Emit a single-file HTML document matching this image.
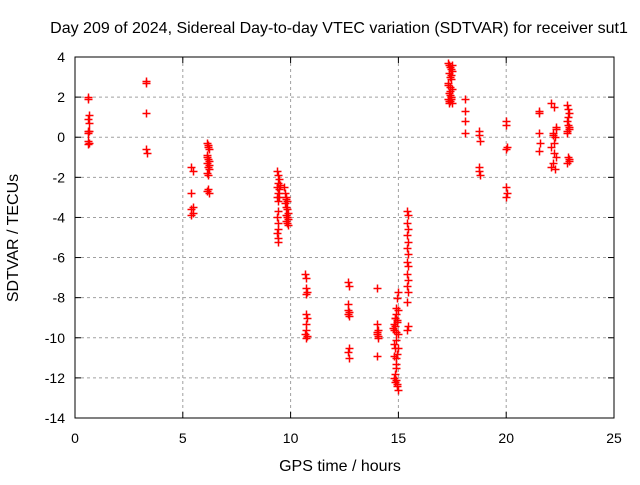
<!DOCTYPE html>
<html><head><meta charset="utf-8"><style>
body{margin:0;background:#fff;}
svg text{font-family:"Liberation Sans",sans-serif;font-size:14px;fill:#000;}
svg text.big{font-size:16px;}
</style></head><body>
<svg id="chart" width="640" height="480">
<text class="big" x="339" y="33" text-anchor="middle">Day 209 of 2024, Sidereal Day-to-day VTEC variation (SDTVAR) for receiver sut1</text>
<text class="big" x="340" y="471" text-anchor="middle">GPS time / hours</text>
<text class="big" transform="translate(18,238) rotate(-90)" text-anchor="middle">SDTVAR / TECUs</text>
<g id="grid"></g><g id="ticks"></g><g id="pts"></g>
<rect x="75" y="57" width="539" height="361" fill="none" stroke="#000" stroke-width="1"/>
</svg>
<script>
const xTicks=[0,5,10,15,20,25];
const yTicks=[4,2,0,-2,-4,-6,-8,-10,-12,-14];
const times=[
0.6,0.6,0.65,0.6,0.65,0.6,0.65,0.6,0.6,0.65,0.6,
3.3,3.3,3.3,3.3,3.35,
5.4,5.45,5.4,5.45,5.4,5.4,5.45,
6.1,6.15,6.2,6.1,6.15,6.2,6.1,6.15,6.2,6.1,6.15,6.2,6.15,6.1,6.2,6.1,6.15,
9.35,9.4,9.45,9.4,9.35,9.45,9.4,9.35,9.4,9.45,9.4,9.35,9.4,9.4,9.35,9.4,9.4,9.5,
9.7,9.75,9.8,9.85,9.75,9.8,9.85,9.9,9.8,9.85,9.9,9.8,9.85,9.9,9.8,
10.65,10.7,10.7,10.75,10.7,10.7,10.75,10.7,10.7,10.65,10.7,10.75,
12.65,12.7,12.65,12.7,12.7,12.65,12.7,12.65,12.7,12.65,
14.0,14.0,14.05,14.0,14.05,14.0,14.05,14.0,
14.75,14.8,14.85,14.9,14.95,15.0,14.8,14.85,14.9,14.95,14.8,14.9,15.0,14.85,14.9,14.95,14.8,14.85,14.9,14.95,15.0,14.8,14.85,14.9,14.95,15.0,14.85,14.9,14.95,15.0,14.9,
15.4,15.45,15.4,15.45,15.4,15.45,15.4,15.45,15.4,15.45,15.4,15.45,15.4,15.45,15.4,15.45,15.4,
17.3,17.35,17.4,17.45,17.5,17.35,17.4,17.45,17.3,17.4,17.5,17.35,17.45,17.3,17.4,17.5,17.35,17.45,17.4,17.3,17.5,17.45,17.35,17.4,
18.1,18.1,18.1,18.1,
18.75,18.75,18.8,18.75,18.75,18.8,
20.0,20.0,20.05,20.0,20.0,20.05,20.0,
21.5,21.5,21.5,21.55,21.5,
22.1,22.2,22.3,22.15,22.25,22.1,22.2,22.3,22.15,22.1,22.25,22.2,22.15,22.3,
22.8,22.85,22.9,22.8,22.85,22.9,22.8,22.85,22.9,22.8,22.85,22.9,22.8,22.9];
const sdtvar=[
2.0,1.9,1.1,0.9,0.7,0.3,0.3,0.2,-0.2,-0.3,-0.35,
2.8,2.7,1.2,-0.6,-0.8,
-1.5,-1.7,-2.8,-3.5,-3.6,-3.9,-3.8,
-0.3,-0.5,-0.6,-0.9,-1.1,-1.2,-1.3,-1.5,-1.6,-1.8,-1.9,-1.4,-2.6,-2.7,-2.8,-1.0,-0.4,
-1.7,-1.9,-2.1,-2.3,-2.5,-2.6,-2.8,-3.0,-3.2,-3.0,-3.7,-4.0,-4.3,-4.6,-4.8,-5.0,-5.2,-2.4,
-2.5,-2.8,-3.0,-3.2,-3.3,-3.5,-3.6,-3.8,-3.9,-4.0,-4.1,-4.2,-4.3,-4.4,-3.1,
-6.8,-7.0,-7.5,-7.7,-7.8,-8.8,-9.0,-9.3,-9.6,-9.8,-10.0,-9.9,
-7.2,-7.4,-8.3,-8.7,-8.9,-8.8,-10.5,-10.7,-11.0,-8.6,
-7.5,-9.3,-9.6,-9.8,-10.0,-9.7,-9.9,-10.9,
-9.5,-9.3,-9.0,-8.5,-8.0,-7.7,-10.3,-10.5,-10.1,-9.2,-10.9,-11.3,-8.6,-11.8,-12.1,-12.3,-12.0,-12.2,-11.5,-10.8,-9.8,-9.6,-9.0,-8.8,-12.4,-12.6,-9.4,-9.7,-9.1,-10.5,-11.0,
-3.7,-3.9,-4.3,-4.6,-4.9,-5.2,-5.5,-5.8,-6.2,-6.4,-6.8,-7.1,-7.4,-7.7,-8.2,-9.4,-9.6,
3.7,3.6,3.5,3.4,3.3,3.2,3.0,2.9,2.7,2.5,2.4,2.2,2.0,1.9,1.8,1.7,1.8,1.9,2.3,2.6,3.6,3.1,1.7,2.1,
1.9,1.3,0.8,0.2,
0.3,0.1,-0.2,-1.5,-1.7,-1.9,
0.8,0.6,-0.5,-0.6,-2.5,-2.8,-3.0,
1.3,1.2,0.2,-0.3,-0.7,
1.7,1.5,0.4,0.2,0.0,-0.5,-0.8,-1.0,-1.3,-1.5,-1.6,-0.3,0.1,0.5,
1.6,1.4,1.2,0.8,0.6,0.4,0.2,-1.0,-1.2,-1.3,1.0,0.5,0.3,-1.1];
const NS='http://www.w3.org/2000/svg';
const X0=75,X1=614,Y0=57,Y1=418;
function sx(t){return X0+(t-0)/(25-0)*(X1-X0);}
function sy(v){return Y0+(4-v)/(4-(-14))*(Y1-Y0);}
function mk(tag,a,parent){const e=document.createElementNS(NS,tag);for(const k in a)e.setAttribute(k,a[k]);parent.appendChild(e);return e;}
const grid=document.getElementById('grid'),ticks=document.getElementById('ticks'),pts=document.getElementById('pts');
xTicks.forEach(t=>{const x=sx(t);
 if(t>0&&t<25){const g=mk('line',{x1:x,x2:x,y1:Y0,y2:Y1,stroke:'#a0a0a0','stroke-dasharray':'3,3'},grid);
 
 }
 mk('line',{x1:x,x2:x,y1:Y1,y2:Y1-6,stroke:'#000'},ticks);mk('line',{x1:x,x2:x,y1:Y0,y2:Y0+6,stroke:'#000'},ticks);
 const l=mk('text',{x:x,y:Y1+25,'text-anchor':'middle'},ticks);l.textContent=t;
 
 });
yTicks.forEach(v=>{const y=sy(v);
 if(v<4&&v>-14){const g=mk('line',{x1:X0,x2:X1,y1:y,y2:y,stroke:'#a0a0a0','stroke-dasharray':'3,3'},grid);
 
 }
 mk('line',{x1:X0,x2:X0+6,y1:y,y2:y,stroke:'#000'},ticks);mk('line',{x1:X1,x2:X1-6,y1:y,y2:y,stroke:'#000'},ticks);
 const l=mk('text',{x:X0-10,y:y+5,'text-anchor':'end'},ticks);l.textContent=v;
 
 });
times.forEach((t,i)=>{const x=Math.round(sx(t))+0.5,y=Math.round(sy(sdtvar[i]))+0.5;
 const p=mk('path',{d:`M${x-4} ${y}H${x+4}M${x} ${y-4}V${y+4}`,stroke:'#ff0000','stroke-width':1.5,fill:'none'},pts);
 
 });
</script>
</body></html>
